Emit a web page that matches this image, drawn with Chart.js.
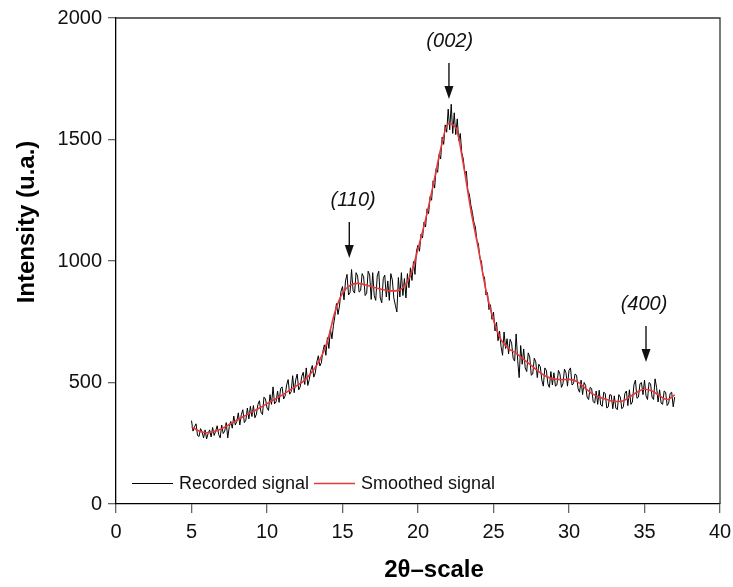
<!DOCTYPE html>
<html lang="en">
<head>
    <meta charset="UTF-8">
    <title>XRD pattern</title>
    <style>
        body {
            margin: 0;
            background: #fff;
        }
        #wrap {
            width: 733px;
            height: 587px;
        }
    </style>
    <script src="https://cdn.jsdelivr.net/npm/chart.js"></script>
</head>
<body>

<div id="wrap"><canvas id="xrdChart" width="733" height="587"></canvas></div>

<script>
    // recorded signal, one value every 0.1 degree from 5.0 to 37.0
    const recordedStart = 5;
    const recordedStep = 0.1;
    const recorded = [
        343, 300, 318, 330, 282, 278, 310, 296, 272, 305,
        268, 290, 305, 276, 315, 282, 300, 322, 286, 272,
        325, 290, 300, 335, 272, 318, 340, 312, 362, 325,
        340, 375, 325, 368, 388, 335, 345, 395, 350, 402,
        360, 405, 355, 370, 410, 425, 378, 368, 440, 432,
        395, 385, 450, 410, 482, 412, 420, 465, 418, 475,
        482, 432, 445, 490, 512, 452, 462, 528, 458, 510,
        535, 470, 482, 525, 542, 492, 560, 488, 512, 550,
        570, 522, 540, 585, 610, 568, 582, 628, 655, 612,
        685, 640, 720, 680, 735, 775, 825, 780, 815, 875,
        895, 840, 918, 945, 860, 870, 965, 878, 868, 952,
        938, 872, 878, 948, 935, 858, 868, 958, 942, 842,
        952, 858, 838, 938, 958, 848, 828, 928, 942, 852,
        918, 838, 948, 922, 848, 818, 790, 932, 852, 952,
        858, 928, 848, 948, 890, 972, 920, 998, 945, 1042,
        1065, 1040, 1110, 1095, 1160, 1140, 1215, 1195, 1265, 1250,
        1330, 1300, 1380, 1365, 1440, 1420, 1510, 1480, 1560, 1530,
        1625, 1540, 1645, 1525, 1610, 1520, 1585, 1495, 1525, 1445,
        1420, 1360, 1370, 1290, 1275, 1230, 1200, 1160, 1140, 1085,
        1070, 1010, 1000, 940, 935, 860, 870, 800, 820, 760,
        790, 712, 748, 672, 712, 648, 612, 708, 640, 680,
        618, 678, 662, 600, 588, 700, 592, 520, 652, 575,
        638, 560, 545, 622, 605, 530, 535, 600, 585, 520,
        575, 565, 510, 485, 560, 550, 495, 480, 545, 490,
        540, 485, 490, 550, 535, 480, 495, 555, 540, 485,
        550, 560, 490, 495, 535, 530, 475, 460, 510, 450,
        500, 488, 440, 430, 480, 475, 422, 415, 465, 410,
        468, 408, 402, 460, 455, 395, 400, 450, 448, 392,
        445, 395, 388, 450, 440, 392, 400, 455, 465, 405,
        470, 410, 420, 490, 510, 435, 440, 495, 500, 450,
        510, 445, 430, 500, 495, 440, 430, 515, 480, 420,
        470, 415, 410, 465, 460, 405, 415, 455, 460, 400,
        440
    ];

    // smoothed signal, one value every 0.5 degree from 5 to 37
    const smoothedStart = 5;
    const smoothedStep = 0.5;
    const smoothed = [
        318, 300, 293, 298, 310, 327, 345, 362, 378, 395,
        413, 430, 448, 468, 488, 510, 545, 593, 670, 790,
        868, 900, 908, 902, 893, 885, 878, 877, 890, 940,
        1050, 1170, 1310, 1460, 1565, 1550, 1400, 1210, 1050, 880,
        757, 675, 640, 620, 595, 570, 545, 525, 515, 512,
        513, 505, 480, 455, 440, 430, 422, 423, 440, 460,
        472, 465, 445, 430, 449
    ];

    const xTicks = [0, 5, 10, 15, 20, 25, 30, 35, 40];
    const yTicks = [0, 500, 1000, 1500, 2000];

    // peak markers
    const peakLabels = ['(110)', '(002)', '(400)'];
    const peakX = [15.45, 22.05, 35.1];
    const peakTextX = [15.7, 22.1, 34.97];
    const arrowTop = [1160, 1815, 732];
    const arrowTip = [1012, 1667, 584];

    const seriesNames = ['Recorded signal', 'Smoothed signal'];
    const seriesColors = ['#000000', '#e8383b'];

    const FONT = '"Liberation Sans", Arial, Helvetica, sans-serif';

    function toPoints(start, step, values) {
        return values.map((v, i) => ({ x: +(start + i * step).toFixed(2), y: v }));
    }

    const extras = {
        id: 'extras',
        afterDraw(chart) {
            const ctx = chart.ctx;
            const a = chart.chartArea;
            const xs = chart.scales.x;
            const ys = chart.scales.y;
            ctx.save();

            // top and right frame
            ctx.strokeStyle = '#333';
            ctx.lineWidth = 1.3;
            ctx.beginPath();
            ctx.moveTo(a.left, a.top);
            ctx.lineTo(a.right, a.top);
            ctx.lineTo(a.right, a.bottom);
            ctx.stroke();

            // peak arrows and labels
            ctx.fillStyle = '#111';
            ctx.strokeStyle = '#111';
            ctx.lineWidth = 1.4;
            ctx.font = 'italic 20px ' + FONT;
            ctx.textAlign = 'center';
            ctx.textBaseline = 'middle';
            for (let i = 0; i < peakLabels.length; i++) {
                const px = xs.getPixelForValue(peakX[i]);
                const top = ys.getPixelForValue(arrowTop[i]);
                const tip = ys.getPixelForValue(arrowTip[i]);
                ctx.beginPath();
                ctx.moveTo(px, top);
                ctx.lineTo(px, tip - 10);
                ctx.stroke();
                ctx.beginPath();
                ctx.moveTo(px - 4.5, tip - 13);
                ctx.lineTo(px + 4.5, tip - 13);
                ctx.lineTo(px, tip);
                ctx.closePath();
                ctx.fill();
                ctx.fillText(peakLabels[i], xs.getPixelForValue(peakTextX[i]), top - 22);
            }

            // legend inside the plot
            ctx.font = '18px ' + FONT;
            ctx.textAlign = 'left';
            ctx.textBaseline = 'middle';
            const ly = 483;
            const items = [[132, 179], [314, 361]];
            items.forEach((it, i) => {
                ctx.strokeStyle = seriesColors[i];
                ctx.lineWidth = i === 0 ? 1 : 1.6;
                ctx.beginPath();
                ctx.moveTo(it[0], ly + 0.5);
                ctx.lineTo(it[0] + 41, ly + 0.5);
                ctx.stroke();
                ctx.fillStyle = '#111';
                ctx.fillText(seriesNames[i], it[1], ly + 1);
            });

            // axis titles
            ctx.fillStyle = '#000';
            ctx.font = 'bold 24px ' + FONT;
            ctx.textAlign = 'center';
            ctx.textBaseline = 'alphabetic';
            ctx.fillText('2\u03b8\u2013scale', 434, 577);

            ctx.translate(34, 222);
            ctx.rotate(-Math.PI / 2);
            ctx.fillText('Intensity (u.a.)', 0, 0);
            ctx.restore();
        }
    };

    const ctx = document.getElementById('xrdChart').getContext('2d');
    new Chart(ctx, {
        type: 'line',
        data: {
            datasets: [{
                label: seriesNames[1],
                data: toPoints(smoothedStart, smoothedStep, smoothed),
                borderColor: seriesColors[1],
                borderWidth: 1.6,
                pointRadius: 0,
                cubicInterpolationMode: 'monotone',
                fill: false,
                order: 0
            }, {
                label: seriesNames[0],
                data: toPoints(recordedStart, recordedStep, recorded),
                borderColor: seriesColors[0],
                borderWidth: 1,
                pointRadius: 0,
                tension: 0,
                fill: false,
                order: 1
            }]
        },
        options: {
            responsive: false,
            animation: false,
            events: [],
            layout: { padding: { top: 18, right: 13, left: 0, bottom: 0 } },
            plugins: {
                legend: { display: false },
                tooltip: { enabled: false }
            },
            scales: {
                x: {
                    type: 'linear',
                    min: 0,
                    max: 40,
                    afterBuildTicks: s => { s.ticks = xTicks.map(v => ({ value: v })); },
                    afterFit: s => { s.height = 83; s.paddingLeft = 0; s.paddingRight = 0; },
                    grid: { drawOnChartArea: false, tickLength: 9, color: '#666', lineWidth: 1.3 },
                    border: { color: '#000', width: 1.3 },
                    ticks: { color: '#111', padding: 7, callback: v => String(v), font: { family: FONT, size: 20 } }
                },
                y: {
                    min: 0,
                    max: 2000,
                    afterBuildTicks: s => { s.ticks = yTicks.map(v => ({ value: v })); },
                    afterFit: s => { s.width = 116; s.paddingTop = 0; s.paddingBottom = 0; },
                    grid: { drawOnChartArea: false, tickLength: 8, color: '#666', lineWidth: 1.3 },
                    border: { color: '#000', width: 1.3 },
                    ticks: { color: '#111', padding: 6, callback: v => String(v), font: { family: FONT, size: 20 } }
                }
            }
        },
        plugins: [extras]
    });
</script>

</body>
</html>
